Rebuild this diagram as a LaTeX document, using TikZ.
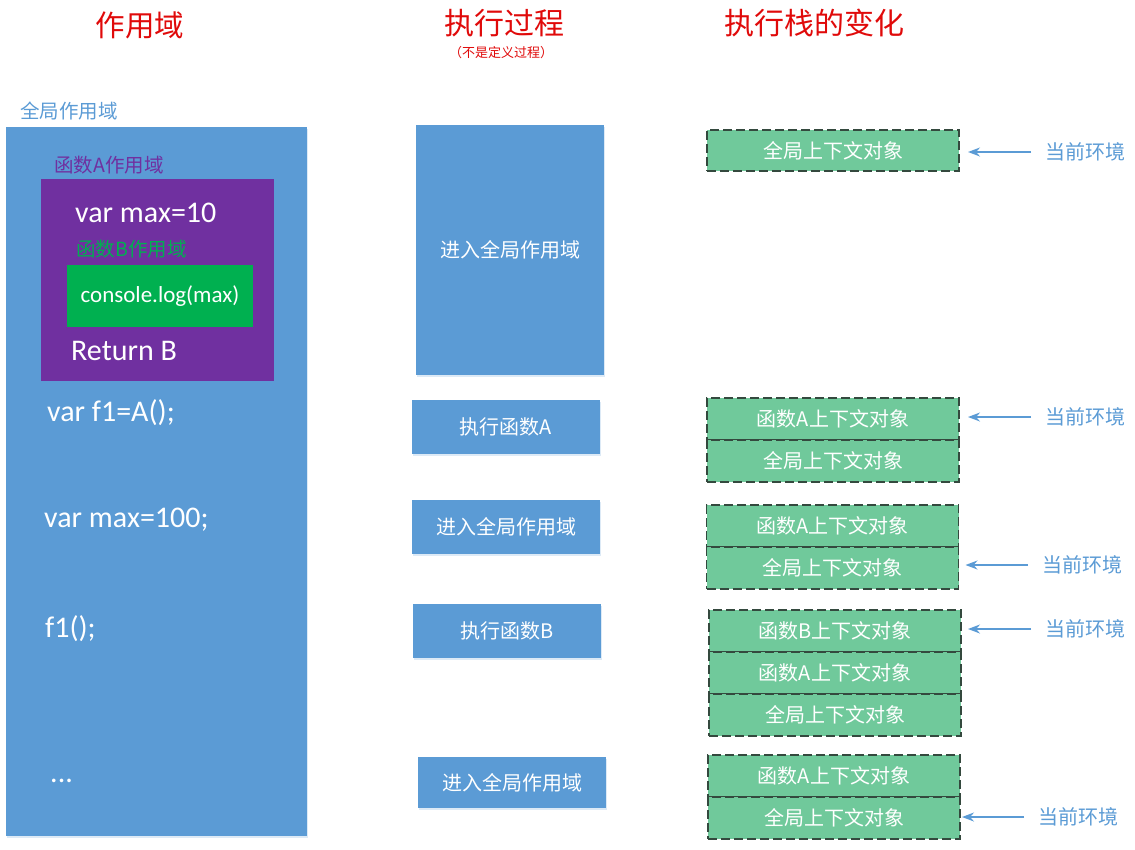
\documentclass[tikz,border=0pt]{standalone}
\usepackage{fontspec}
\setmainfont{Carlito}
\newfontfamily\cjk{Noto Sans CJK SC}
\usetikzlibrary{positioning}
\usetikzlibrary{arrows.meta}
\usetikzlibrary{shadows}

\definecolor{scopeblue}{HTML}{5B9BD5}
\definecolor{scopepurple}{HTML}{7030A0}
\definecolor{scopegreen}{HTML}{00B050}
\definecolor{ctxgreen}{HTML}{70C99B}
\definecolor{ctxedge}{HTML}{34493E}
\definecolor{titlered}{HTML}{E00A0A}

\tikzset{
  headlbl/.style={font=\cjk\fontsize{30}{32}\selectfont, text=titlered, inner sep=0pt},
  scopelbl/.style={font=\cjk\fontsize{19.5}{21}\selectfont, anchor=west, inner sep=0pt},
  codeline/.style={font=\fontsize{30}{32}\selectfont, text=white, anchor=base west, inner sep=0pt},
  scopebox/.style={rectangle, inner sep=0pt, outer sep=0pt},
  stepbox/.style={rectangle, fill=scopeblue, minimum width=188pt, text=white,
    font=\cjk\fontsize{20}{22}\selectfont,
    drop shadow={fill=scopeblue!35, opacity=0.6, shadow xshift=1pt, shadow yshift=-2pt}},
  ctxbox/.style={rectangle, fill=ctxgreen, draw=ctxedge, dash pattern=on 9pt off 4pt,
    line width=1.2pt, minimum width=252pt, minimum height=42pt, outer sep=0pt,
    text=white, font=\cjk\fontsize{20}{22}\selectfont},
  curlbl/.style={font=\cjk\fontsize{20}{22}\selectfont, text=scopeblue, anchor=west, inner sep=0pt},
  curarrow/.style={-{Stealth[length=12pt,width=9pt]}, draw=scopeblue, line width=1.6pt}
}

\begin{document}
\begin{tikzpicture}[x=1pt, y=-1pt]
    \useasboundingbox (0,0) rectangle (1135,849);

    % column heads
    \node[headlbl, font=\cjk\fontsize{29.5}{31}\selectfont] (hscope) at (140,25) {作用域};
    \node[headlbl] (hrun) at (504,23) {执行过程};
    \node[headlbl, font=\cjk\fontsize{13}{15}\selectfont] (hnote) at (501,53)
    {（不是定义过程）};
    \node[headlbl] (hstack) at (814,23) {执行栈的变化};

    % scopes
    \node[scopelbl, text=scopeblue] (lglob) at (20,111) {全局作用域};
    \node[scopebox, fill=scopeblue, minimum width=301pt, minimum height=709pt,
    drop shadow={fill=scopeblue!35, opacity=0.6, shadow xshift=1pt, shadow yshift=-2pt}]
    (glob) at (156.5,481.5) {};

    \node[scopelbl, text=scopepurple] (lfa) at (54,165) {函数A作用域};
    \node[scopebox, fill=scopepurple, minimum width=233pt, minimum height=202pt]
    (fa) at (157.5,280) {};

    \node[codeline] (cmax) at (75,222) {var max=10};
    \node[scopelbl, text=scopegreen] (lfb) at (76,249) {函数B作用域};
    \node[scopebox, fill=scopegreen, minimum width=186pt, minimum height=62pt,
    text=white, font=\fontsize{23}{25}\selectfont] (fb) at (160,296) {console.log(max)};
    \node[codeline] (cret) at (71,360) {Return B};

    \node[codeline] (cf1) at (47,421) {var f1=A();};
    \node[codeline] (cmax2) at (44,527) {var max=100;};
    \node[codeline] (ccall) at (45,637) {f1();};
    \node[codeline] (cdots) at (50,782) {...};

    % execution steps
    \node[stepbox, minimum height=250pt] (run1) at (510,250) {进入全局作用域};
    \node[stepbox, minimum height=54pt] (run2) at (506,427) {执行函数A};
    \node[stepbox, minimum height=54pt] (run3) at (506,527) {进入全局作用域};
    \node[stepbox, minimum height=54pt] (run4) at (507,631) {执行函数B};
    \node[stepbox, minimum height=51pt] (run5) at (512,782.5) {进入全局作用域};

    % stack states
    \node[ctxbox, minimum height=41pt] (g1) at (833,150.5) {全局上下文对象};

    \node[ctxbox] (a2) at (833,419) {函数A上下文对象};
    \node[ctxbox, below=0pt of a2] (g2) {全局上下文对象};

    \node[ctxbox] (a3) at (832.5,526) {函数A上下文对象};
    \node[ctxbox, below=0pt of a3] (g3) {全局上下文对象};

    \node[ctxbox] (b4) at (835,631) {函数B上下文对象};
    \node[ctxbox, below=0pt of b4] (a4) {函数A上下文对象};
    \node[ctxbox, below=0pt of a4] (g4) {全局上下文对象};

    \node[ctxbox] (a5) at (834,776) {函数A上下文对象};
    \node[ctxbox, below=0pt of a5] (g5) {全局上下文对象};

    % current context markers
    \node[curlbl] (cur1) at (1045,152) {当前环境};
    \node[curlbl] (cur2) at (1045,417) {当前环境};
    \node[curlbl] (cur3) at (1042,565) {当前环境};
    \node[curlbl] (cur4) at (1045,629) {当前环境};
    \node[curlbl] (cur5) at (1038,817) {当前环境};

    \foreach \c/\s/\d in {cur1/g1/9, cur2/a2/9, cur3/g3/7, cur4/b4/7, cur5/g5/2}
    {
        \draw[curarrow, shorten <=14pt, shorten >=\d pt]
        (\c.west) -- (\s.east |- \c.west);
    }
\end{tikzpicture}
\end{document}
